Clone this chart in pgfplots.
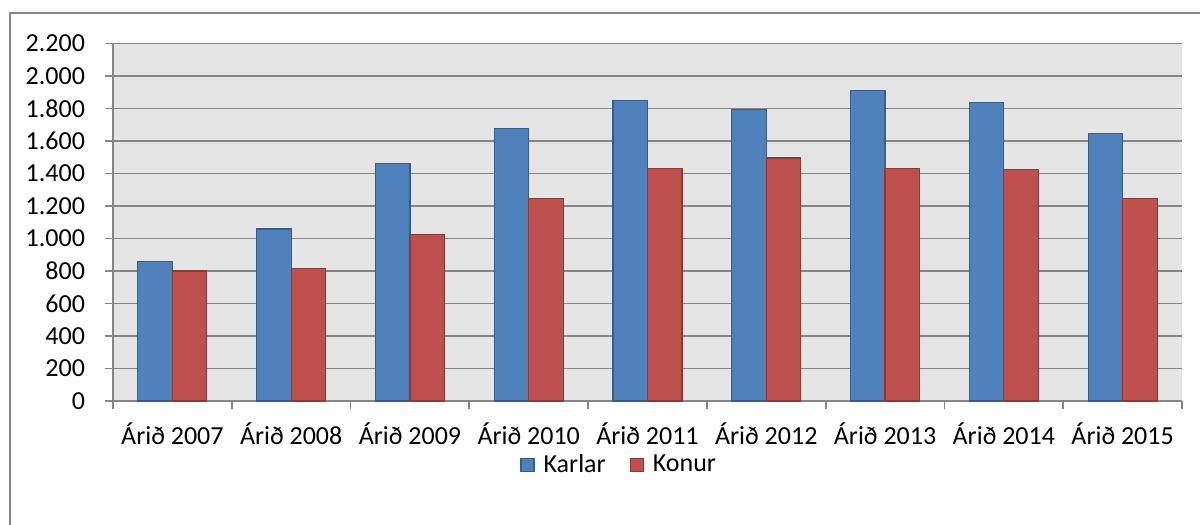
\documentclass[border=0pt]{standalone}
\usepackage{pgfplots}
\pgfplotsset{compat=1.18}
\usepackage{fontspec}
\setmainfont{Carlito}
\definecolor{kblue}{HTML}{4F81BD}
\definecolor{kblueE}{HTML}{385D8A}
\definecolor{kred}{HTML}{C0504D}
\definecolor{kredE}{HTML}{8C3836}
\definecolor{gridc}{HTML}{868686}
\begin{document}
\begin{tikzpicture}[font=\fontsize{13}{15}\selectfont]
\useasboundingbox (0,0) rectangle (600pt,262.5pt);
\clip (0,0) rectangle (600pt,262.5pt);
\draw[gridc, line width=0.9pt] (5pt,256pt) rectangle (610pt,-10pt);
\begin{axis}[
  at={(56.5pt,62pt)}, anchor=south west,
  scale only axis, width=534.5pt, height=178.75pt,
  ymin=0, ymax=2200, ytick={0,200,...,2200},
  xmin=-0.5, xmax=8.5,
  ybar=0pt, bar width=17.25pt,
  xtick={0,...,8},
  xticklabels={Árið 2007,Árið 2008,Árið 2009,Árið 2010,Árið 2011,Árið 2012,Árið 2013,Árið 2014,Árið 2015},
  minor xtick={-0.5,0.5,...,8.5},
  axis x line*=bottom, axis y line*=left,
  axis line style={gridc, line width=0.9pt, -},
  axis background/.style={fill=gray!20},
  ymajorgrids, grid style={gridc, line width=0.9pt},
  tick align=outside, major tick length=4pt, minor tick length=4pt,
  major x tick style={draw=none},
  minor x tick style={gridc, line width=0.9pt},
  ytick style={gridc, line width=0.9pt},
  tick label style={font=\fontsize{13}{15}\selectfont, text=black},
  yticklabel style={xshift=-6.5pt},
  xticklabel style={yshift=-3.5pt},
  /pgf/number format/.cd, 1000 sep={.}, assume math mode=true, /pgfplots/.cd,
  legend style={at={(axis description cs:0.4745,-0.179)}, anchor=center, draw=none, fill=none,
    legend columns=2, font=\fontsize{13}{15}\selectfont,
    /tikz/every even column/.append style={column sep=10pt}},
  legend image code/.code={\draw[#1] (0pt,-3.25pt) rectangle (6.5pt,3.25pt); \path (9pt,0pt);},
]
\addplot[fill=kblue, draw=kblueE, line width=0.6pt] coordinates {
  (0,858) (1,1058) (2,1460) (3,1675) (4,1848) (5,1795) (6,1912) (7,1838) (8,1645)};
\addlegendentry{Karlar}
\addplot[fill=kred, draw=kredE, line width=0.6pt] coordinates {
  (0,800) (1,815) (2,1025) (3,1246) (4,1432) (5,1495) (6,1432) (7,1427) (8,1248)};
\addlegendentry{Konur}
\end{axis}
\end{tikzpicture}
\end{document}
